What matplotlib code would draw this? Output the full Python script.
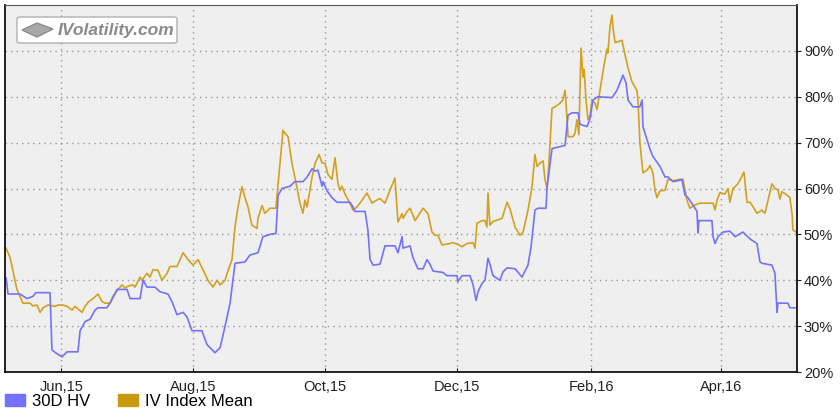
import pandas as pd
import matplotlib
matplotlib.use("Agg")
import matplotlib.pyplot as plt
import matplotlib.dates as mdates
from matplotlib.patches import Patch, FancyBboxPatch, Polygon

plt.rcParams["font.family"] = ["Liberation Sans", "DejaVu Sans"]

# days since 2015-05-06 and values (%)
start_date = "2015-05-06"

hv_days = [0.5, 1.4, 6.9, 10.2, 12.9, 14.3, 20.8, 21.7, 24.0, 26.3, 28.7, 33.7, 34.7, 37.0, 39.3,
           41.6, 43.0, 47.1, 48.5, 50.8, 51.8, 56.4, 57.8, 61.5, 62.4, 63.8, 65.6, 69.3, 71.6, 75.3,
           77.2, 79.5, 82.3, 84.1, 86.4, 91.0, 93.3, 97.0, 99.4, 101.7, 104.0, 106.3, 110.9, 113.2,
           116.9, 119.2, 122.5, 125.2, 126.2, 128.0, 131.7, 134.0, 137.7, 139.6, 141.9, 143.3, 144.6,
           146.5, 147.0, 148.8, 151.1, 153.4, 159.4, 160.8, 161.7, 166.4, 167.7, 168.7, 170.1, 173.3,
           175.6, 180.2, 181.6, 183.5, 183.9, 187.2, 188.5, 190.8, 193.2, 195.0, 196.4, 197.8, 202.4,
           204.2, 208.9, 209.3, 211.2, 214.9, 216.3, 217.7, 218.6, 220.4, 221.8, 223.2, 224.1, 225.5,
           228.7, 230.1, 232.0, 235.7, 238.9, 241.7, 243.1, 244.9, 246.3, 250.0, 250.5, 252.8, 258.8,
           260.2, 262.0, 264.8, 265.7, 269.0, 270.4, 271.7, 274.0, 280.5, 282.8, 285.6, 287.0, 287.9,
           290.2, 293.4, 294.4, 294.8, 298.1, 299.4, 302.7, 305.0, 306.4, 308.7, 311.9, 312.8, 314.2,
           315.6, 317.9, 319.8, 320.2, 320.7, 326.7, 327.2, 328.1, 329.5, 331.8, 335.0, 337.4, 341.0,
           344.3, 347.5, 348.9, 349.8, 354.4, 355.8, 356.8, 357.2, 361.8, 362.7, 365.0]
hv_vals = [40.5, 37.0, 37.0, 36.0, 36.5, 37.3, 37.3, 24.8, 24.0, 23.3, 24.4, 24.4, 29.0, 31.0, 31.5,
           33.5, 34.0, 34.0, 35.0, 37.0, 38.0, 38.0, 36.0, 36.0, 36.0, 40.0, 38.5, 38.5, 37.5, 37.0,
           35.3, 32.5, 33.0, 32.0, 29.0, 29.0, 26.0, 24.2, 25.3, 30.0, 35.0, 43.7, 44.0, 45.5,
           46.0, 49.5, 50.0, 50.2, 58.5, 60.0, 60.5, 61.5, 61.5, 62.5, 64.3, 63.8, 64.0,
           60.5, 61.5, 59.5, 58.0, 57.0, 57.0, 56.0, 55.0, 55.0, 51.0, 44.5, 43.3, 43.5,
           47.5, 47.5, 46.0, 49.5, 47.0, 47.5, 45.0, 42.5, 42.5, 44.5, 43.5, 42.0, 41.7,
           41.0, 41.0, 39.7, 41.0, 41.0, 39.0, 35.6, 37.5, 39.3, 40.0, 44.8, 43.5, 41.0,
           40.0, 41.8, 42.7, 42.5, 40.7, 43.3, 47.3, 55.3, 55.7, 55.7, 60.3, 68.7, 69.4,
           76.0, 76.5, 76.5, 74.0, 73.5, 75.3, 79.3, 80.0, 79.8, 81.4, 84.7, 83.0, 79.3,
           77.8, 77.8, 79.3, 73.5, 68.5, 67.0, 64.8, 62.5, 62.5, 61.5, 61.8, 62.0, 58.6,
           58.0, 56.4, 55.0, 50.3, 53.0, 53.0, 49.5, 48.0, 49.5, 50.5, 50.7, 49.5, 50.5,
           49.0, 48.0, 44.0, 43.7, 43.3, 41.5, 33.0, 35.0, 35.0, 34.0, 34.0]

iv_days = [0.5, 2.3, 3.7, 5.5, 6.9, 8.3, 11.6, 12.9, 14.8, 16.2, 17.6, 19.9, 23.1, 24.5, 26.8, 28.7,
           31.0, 32.3, 35.6, 37.0, 38.4, 40.7, 43.0, 44.8, 46.2, 48.5, 49.9, 52.2, 54.1, 55.5, 56.8,
           59.1, 60.1, 62.4, 63.3, 65.6, 67.0, 68.4, 70.7, 72.5, 74.9, 76.2, 79.5, 82.3, 84.6, 86.9,
           89.2, 91.5, 93.8, 96.1, 98.0, 99.4, 101.7, 103.0, 104.9, 106.3, 107.7, 109.5, 110.9, 112.3,
           114.1, 116.5, 116.9, 118.8, 120.1, 122.5, 125.2, 126.2, 128.5, 129.4, 130.8, 132.6, 134.9,
           136.3, 137.7, 138.6, 139.6, 141.9, 143.3, 145.1, 146.5, 147.9, 149.3, 151.1, 152.5, 153.9,
           154.8, 155.7, 157.1, 159.4, 160.8, 162.7, 164.0, 167.3, 169.6, 171.9, 173.3, 175.6, 177.9,
           180.2, 181.6, 183.5, 183.9, 185.8, 187.2, 189.5, 193.2, 195.5, 197.3, 198.7, 200.1, 201.9,
           205.6, 207.0, 209.3, 211.2, 213.5, 216.3, 217.2, 218.1, 220.4, 221.8, 222.7, 223.2, 224.1,
           225.5, 229.7, 232.0, 233.4, 235.7, 238.0, 239.4, 241.7, 243.5, 244.9, 245.9, 247.2, 248.7,
           249.5, 250.5, 250.9, 252.8, 254.2, 256.5, 257.8, 258.8, 259.2, 260.2, 262.5, 263.4, 264.3,
           265.2, 266.2, 267.1, 267.6, 268.5, 269.4, 270.4, 271.3, 272.6, 273.6, 274.5, 276.3, 278.2,
           278.6, 279.6, 280.5, 281.0, 281.9, 283.3, 285.1, 286.5, 287.9, 289.7, 292.0, 292.5, 293.4,
           294.8, 296.7, 298.1, 299.4, 300.4, 301.3, 302.7, 305.0, 306.4, 308.7, 311.9, 313.3, 315.2,
           316.5, 318.8, 321.1, 327.2, 328.1, 329.0, 330.4, 332.7, 334.1, 335.0, 336.4, 338.3, 339.6,
           341.5, 342.9, 344.3, 345.7, 347.5, 349.8, 351.2, 352.6, 354.4, 355.8, 357.2, 358.1, 359.0,
           361.3, 362.7, 363.7, 364.1, 365.5]
iv_vals = [47.0, 45.0, 42.0, 38.0, 36.5, 35.0, 35.0, 34.4, 34.6, 33.0, 34.0, 34.6, 34.3, 34.6, 34.6, 34.3,
           33.5, 34.3, 33.0, 34.3, 35.2, 36.0, 37.0, 35.4, 35.0, 35.0, 36.5, 38.0, 39.0, 38.3, 38.7,
           39.0, 38.5, 40.7, 40.0, 41.5, 40.7, 42.3, 42.2, 40.0, 41.5, 43.0, 43.0, 46.0, 44.5, 43.3,
           44.5, 42.3, 40.0, 38.5, 40.0, 39.0, 40.0, 42.0, 44.5, 51.7, 56.0, 60.4, 58.0, 56.0,
           52.0, 51.3, 53.5, 56.3, 54.6, 55.7, 55.7, 61.0, 72.7, 72.0, 71.3, 65.5, 60.3,
           56.8, 54.6, 57.5, 56.0, 62.5, 65.5, 67.4, 65.6, 65.5, 63.0, 62.0, 66.7, 61.0,
           59.6, 60.5, 58.8, 56.8, 55.3, 56.0, 56.8, 59.0, 56.8, 57.5, 57.8, 56.8, 59.6,
           62.3, 52.7, 54.5, 53.5, 55.0, 55.7, 53.0, 55.7, 54.5, 50.5, 49.8, 49.8, 47.7,
           48.0, 48.2, 47.8, 47.3, 48.0, 48.2, 47.0, 52.4, 53.0, 53.0, 51.6, 59.0, 52.0,
           52.8, 53.5, 57.0, 55.5, 51.6, 49.8, 50.5, 55.3, 60.2, 67.4, 64.8, 65.5, 66.0,
           62.0, 60.0, 62.0, 77.5, 77.8, 78.6, 79.3, 81.4, 79.0, 71.3, 71.3, 72.0, 75.0,
           71.7, 90.6, 84.3, 86.0, 79.3, 75.0, 76.0, 79.3, 78.6, 77.2, 80.0, 85.4, 90.4,
           89.5, 95.4, 97.8, 95.0, 91.8, 92.0, 92.3, 89.2, 86.3, 83.3, 81.4, 79.3, 70.0,
           63.4, 64.0, 65.0, 63.4, 59.6, 58.0, 59.5, 59.6, 62.0, 61.7, 62.0, 62.0, 57.4,
           55.7, 56.4, 56.8, 56.8, 55.3, 57.4, 59.1, 58.8, 60.0, 57.0, 60.0, 60.8, 61.8,
           63.6, 57.0, 57.0, 56.0, 54.6, 55.3, 54.6, 57.4, 61.0, 60.0, 59.7, 57.7, 59.3,
           58.6, 58.0, 54.6, 51.0, 50.5]

month_ticks = ["2015-06-01", "2015-08-01", "2015-10-01", "2015-12-01", "2016-02-01", "2016-04-01"]
pct_ticks = [20, 30, 40, 50, 60, 70, 80, 90]

hv_color = "#7272ff"
iv_color = "#d4a020"


def to_dates(days):
    return pd.Timestamp(start_date) + pd.to_timedelta(days, unit="D")


fig = plt.figure(figsize=(8.4, 4.18), dpi=100)
ax = fig.add_axes([5 / 840, 1 - 372 / 418, 792 / 840, 367 / 418])
ax.set_facecolor("#efefef")

ax.plot(to_dates(iv_days), iv_vals, color=iv_color, lw=1.2)
ax.plot(to_dates(hv_days), hv_vals, color=hv_color, lw=1.2)

ax.set_xlim(pd.Timestamp(start_date), pd.Timestamp(start_date) + pd.Timedelta(days=366))
ax.set_ylim(20, 100)

ax.set_xticks(pd.to_datetime(month_ticks))
ax.xaxis.set_major_formatter(mdates.DateFormatter("%b,%y"))
ax.yaxis.tick_right()
ax.set_yticks(pct_ticks)
ax.set_yticklabels([f"{p}%" for p in pct_ticks])
ax.tick_params(axis="x", direction="in", length=3, labelsize=10.5, pad=6, colors="#222222")
ax.tick_params(axis="y", direction="out", length=3, labelsize=10.5, pad=2, colors="#222222")
ax.grid(True, color="#999999", linestyle=(0, (1, 3)), lw=1)

for side in ["left", "bottom", "right"]:
    ax.spines[side].set_color("#111111")
    ax.spines[side].set_linewidth(1.3)
ax.spines["top"].set_color("#555555")

# watermark box with a little slab icon
fig.patches.append(FancyBboxPatch((17 / 840, 1 - 43 / 418), 160 / 840, 26 / 418,
                                  boxstyle="round,pad=0,rounding_size=0.004",
                                  transform=fig.transFigure, fc="white", ec="#b0b0b0", lw=1))
fig.patches.append(Polygon([(22 / 840, 1 - 30 / 418), (37 / 840, 1 - 23 / 418),
                            (53 / 840, 1 - 29 / 418), (37 / 840, 1 - 37 / 418)],
                           closed=True, transform=fig.transFigure, fc="#a8a8a8", ec="#8c8c8c", lw=1))
fig.text(58 / 840, 1 - 30 / 418, "IVolatility.com", fontsize=12.5, fontweight="bold",
         fontstyle="italic", color="#8a8a8a", va="center", ha="left")

handles = [Patch(color=hv_color, label="30D HV"), Patch(color="#c89a10", label="IV Index Mean")]
fig.legend(handles=handles, loc="lower left", bbox_to_anchor=(-0.012, -0.014), ncol=2,
           frameon=False, fontsize=12, handlelength=1.2, handleheight=0.8,
           handletextpad=0.4, columnspacing=1.7)

fig.savefig("out.png", dpi=100)
